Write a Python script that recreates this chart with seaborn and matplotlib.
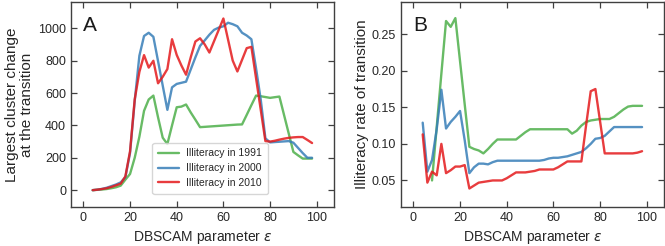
import numpy as np
import pandas as pd
import matplotlib
matplotlib.use("Agg")
import matplotlib.pyplot as plt
import seaborn as sns

eps = list(range(4, 100, 2))

# Panel A: largest cluster change at the transition
cluster_1991 = [0, 2, 4, 7, 12, 18, 28, 65, 100, 200,
                330, 490, 560, 584, 450, 324, 285, 400, 512, 516,
                529, 480, 435, 389, 391, 393, 395, 397, 399, 401,
                403, 405, 406, 465, 525, 584, 580, 575, 570, 574,
                578, 464, 350, 236, 215, 195, 195, 195]
cluster_2000 = [0, 3, 8, 15, 25, 35, 48, 80, 230, 550,
                830, 952, 972, 947, 797, 646, 496, 635, 656, 663,
                670, 745, 820, 891, 925, 960, 990, 1004, 1012, 1034,
                1025, 1012, 972, 955, 932, 752, 560, 320, 295, 297,
                299, 301, 303, 293, 261, 229, 200, 200]
cluster_2010 = [0, 3, 7, 12, 20, 30, 40, 85, 240, 560,
                730, 834, 757, 799, 660, 700, 748, 932, 835, 770,
                713, 820, 918, 938, 900, 850, 920, 990, 1060, 930,
                800, 733, 805, 877, 885, 691, 497, 303, 300, 305,
                312, 318, 323, 326, 328, 328, 310, 291]

# Panel B: illiteracy rate of transition
rate_1991 = [np.nan, np.nan, 0.050, 0.123, 0.196, 0.268, 0.260, 0.272, 0.213, 0.154,
             0.096, 0.093, 0.091, 0.087, 0.093, 0.100, 0.106, 0.106, 0.106, 0.106,
             0.106, 0.111, 0.116, 0.120, 0.120, 0.120, 0.120, 0.120, 0.120, 0.120,
             0.120, 0.120, 0.114, 0.118, 0.125, 0.130, 0.132, 0.133, 0.134, 0.134,
             0.134, 0.137, 0.142, 0.147, 0.151, 0.152, 0.152, 0.152]
rate_2000 = [0.129, 0.062, 0.078, 0.120, 0.174, 0.121, 0.130, 0.137, 0.145, 0.105,
             0.060, 0.068, 0.073, 0.073, 0.072, 0.075, 0.077, 0.077, 0.077, 0.077,
             0.077, 0.077, 0.077, 0.077, 0.077, 0.077, 0.078, 0.080, 0.081, 0.081,
             0.082, 0.083, 0.085, 0.087, 0.089, 0.094, 0.100, 0.107, 0.108, 0.111,
             0.117, 0.123, 0.123, 0.123, 0.123, 0.123, 0.123, 0.123]
rate_2010 = [0.113, 0.047, 0.062, 0.057, 0.100, 0.060, 0.064, 0.069, 0.069, 0.071,
             0.039, 0.043, 0.047, 0.048, 0.049, 0.050, 0.050, 0.050, 0.053, 0.057,
             0.061, 0.061, 0.061, 0.062, 0.063, 0.065, 0.065, 0.065, 0.065, 0.068,
             0.072, 0.076, 0.076, 0.076, 0.076, 0.125, 0.172, 0.175, 0.131, 0.087,
             0.087, 0.087, 0.087, 0.087, 0.087, 0.087, 0.088, 0.090]

series_names = ["Illiteracy in 1991", "Illiteracy in 2000", "Illiteracy in 2010"]
colors = ["#4daf4a", "#377eb8", "#e41a1c"]

def long_df(vals_list):
    frames = []
    for name, vals in zip(series_names, vals_list):
        frames.append(pd.DataFrame({"eps": eps, "val": vals, "series": name}))
    return pd.concat(frames, ignore_index=True)

dfA = long_df([cluster_1991, cluster_2000, cluster_2010])
dfB = long_df([rate_1991, rate_2000, rate_2010])

sns.set_style("ticks", {"xtick.direction": "in", "ytick.direction": "in"})
plt.rcParams["font.family"] = ["Liberation Sans", "DejaVu Sans"]
plt.rcParams["mathtext.fontset"] = "dejavusans"

fig = plt.figure(figsize=(6.65, 2.46), dpi=100)
axA = fig.add_axes([71/665, 1 - 207/246, 263/665, 205/246])
axB = fig.add_axes([401/665, 1 - 207/246, 263/665, 205/246])

pal = dict(zip(series_names, colors))
for ax, df in [(axA, dfA), (axB, dfB)]:
    sns.lineplot(data=df, x="eps", y="val", hue="series", palette=pal, ax=ax,
                 linewidth=1.7, alpha=0.85, legend=(ax is axA))
    ax.set_xlim(-5.3, 107.4)
    ax.set_xticks([0, 20, 40, 60, 80, 100])
    ax.tick_params(which="both", direction="in", top=True, right=True,
                   length=4, width=0.9, color="0.25", labelsize=9, labelcolor="0.15")
    for s in ax.spines.values():
        s.set_linewidth(1.0)
        s.set_color("0.25")
    ax.set_xlabel("DBSCAM parameter $\\varepsilon$", fontsize=10, color="0.15")

axA.set_ylim(-104, 1162)
axA.set_yticks([0, 200, 400, 600, 800, 1000])
axA.set_ylabel("Largest cluster change\nat the transition", fontsize=11,
               color="0.15", linespacing=1.1, labelpad=3)
axB.set_ylim(0.0137, 0.294)
axB.set_yticks([0.05, 0.10, 0.15, 0.20, 0.25])
axB.set_yticklabels(["0.05", "0.10", "0.15", "0.20", "0.25"])
axB.set_ylabel("Illiteracy rate of transition", fontsize=11, color="0.15", labelpad=2)

axA.text(0.045, 0.93, "A", transform=axA.transAxes, fontsize=15, va="top", ha="left", color="0.1")
axB.text(0.045, 0.93, "B", transform=axB.transAxes, fontsize=15, va="top", ha="left", color="0.1")

leg = axA.legend(loc="lower left", bbox_to_anchor=(0.29, 0.04), fontsize=7.5,
                 frameon=True, title=None, handlelength=2.0, borderpad=0.55,
                 labelspacing=0.45, handletextpad=0.7)
leg.get_frame().set_edgecolor("0.8")
for line in leg.get_lines():
    line.set_linewidth(1.7)

fig.savefig("out.png", dpi=100)
